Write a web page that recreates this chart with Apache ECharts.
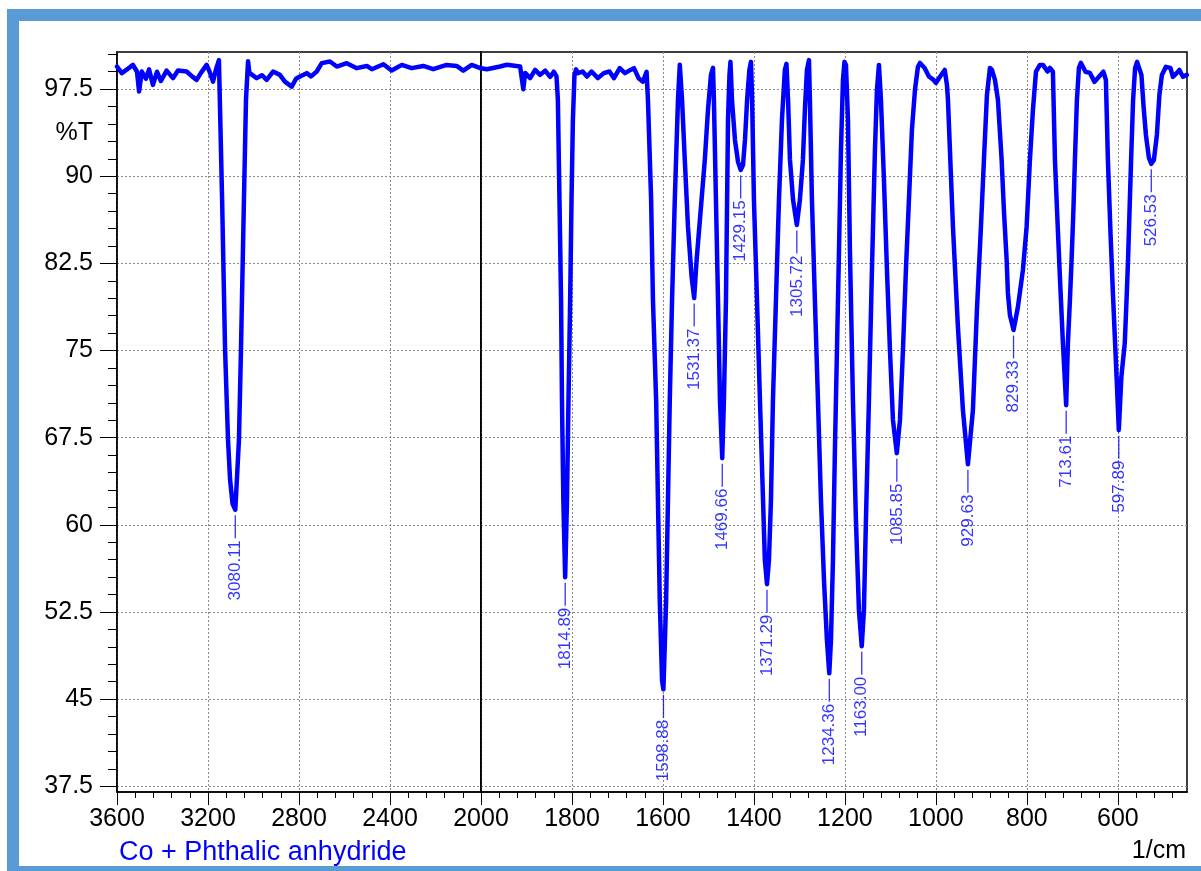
<!DOCTYPE html>
<html>
<head>
<meta charset="utf-8">
<title>Co + Phthalic anhydride</title>
<script src="https://cdn.jsdelivr.net/npm/echarts@6/dist/echarts.min.js"></script>
<style>
  html, body { margin: 0; padding: 0; background: #fff; }
  #chart { width: 1201px; height: 871px; }
</style>
</head>
<body>
<div id="chart"></div>
<script>
// wavenumber (1/cm), %T
var spectrum = [
  [3600, 99.45], [3579, 98.88], [3556, 99.2], [3530, 99.59], [3512, 99.0], [3503, 97.3],
  [3491, 99.02], [3473, 98.4], [3459, 99.2], [3442, 97.87], [3424, 99.0], [3407, 98.2],
  [3382, 99.1], [3354, 98.45], [3332, 99.1], [3294, 99.02], [3270, 98.6], [3250, 98.3],
  [3231, 98.9], [3206, 99.59], [3191, 98.9], [3178, 98.15], [3165, 99.2], [3152, 100.0],
  [3148, 96.6], [3138, 88.0], [3125, 75.1], [3112, 67.3], [3103, 63.9], [3092, 61.8],
  [3080, 61.3], [3073, 63.9], [3064, 67.3], [3055, 75.1], [3042, 88.0], [3033, 96.6],
  [3024, 99.9], [3018, 98.9], [2986, 98.45], [2963, 98.7], [2942, 98.3], [2914, 99.02],
  [2884, 98.73], [2862, 98.15], [2832, 97.72], [2813, 98.4], [2796, 98.59], [2766, 98.88],
  [2747, 98.6], [2722, 99.02], [2700, 99.74], [2664, 99.88], [2634, 99.45], [2590, 99.74],
  [2546, 99.31], [2502, 99.5], [2480, 99.22], [2429, 99.65], [2393, 99.1], [2348, 99.59],
  [2305, 99.31], [2254, 99.5], [2210, 99.22], [2151, 99.59], [2107, 99.5], [2078, 99.1],
  [2041, 99.59], [2000, 99.3],
  [1987, 99.22], [1958, 99.45], [1943, 99.6], [1914, 99.45], [1910, 99.4], [1907, 97.5],
  [1903, 98.9], [1892, 98.45], [1881, 99.16], [1870, 98.73], [1859, 99.1], [1848, 98.56],
  [1840, 99.0], [1834, 98.6],
  [1831, 96.58], [1827.5, 87.97], [1824, 79.35], [1822, 70.74], [1819, 62.12], [1815, 55.49],
  [1811, 62.12], [1807.7, 70.74], [1804, 79.35], [1801, 87.97], [1798, 94.86], [1794.5, 98.73],
  [1791, 99.2], [1787, 98.88], [1776.5, 99.02], [1767, 98.59], [1757, 99.02], [1743, 98.45],
  [1730, 98.88], [1717.6, 99.02], [1707.7, 98.45], [1695, 99.31], [1683.5, 98.88], [1671.4, 99.16],
  [1663.7, 99.31], [1653.6, 98.45], [1644, 98.15], [1636, 99.0],
  [1633, 96.58], [1626, 87.97], [1622, 79.35], [1615, 70.74], [1611, 62.12], [1607, 53.51],
  [1602, 46.6], [1599, 45.84], [1593, 53.51], [1589, 62.12], [1585, 70.74], [1580, 79.35],
  [1574, 87.97], [1567, 96.58], [1563, 99.6],
  [1558, 96.58], [1552, 91.41], [1545, 85.64], [1537, 81.33], [1531.4, 79.52], [1526, 82.8],
  [1517, 87.1], [1508, 91.41], [1501, 95.72], [1494.5, 98.73], [1490, 99.33],
  [1488, 96.58], [1483.5, 87.97], [1479, 79.35], [1474.7, 70.74], [1469.7, 65.74], [1466, 70.74],
  [1461.5, 79.35], [1459, 87.97], [1457, 94.86], [1453.8, 98.73], [1451.6, 99.85],
  [1448.3, 96.58], [1441.7, 93.13], [1435, 91.24], [1429.2, 90.55], [1424, 90.98], [1419.7, 93.13],
  [1415, 96.58], [1410, 99.16], [1406.5, 99.85],
  [1404, 96.58], [1400, 87.97], [1393.3, 79.35], [1386.8, 70.74], [1380, 62.12], [1376, 56.96],
  [1371.3, 54.89], [1367, 56.96], [1362.6, 62.12], [1358.2, 70.74], [1351.6, 79.35], [1345, 87.97],
  [1338.4, 94.86], [1332, 99.16], [1328.5, 99.68],
  [1325, 96.58], [1320.8, 91.41], [1314, 87.97], [1305.7, 85.81], [1299, 87.97], [1292.3, 91.41],
  [1288, 95.72], [1283.5, 99.16], [1279, 100.0],
  [1277, 96.58], [1272.5, 87.97], [1266, 79.35], [1259.3, 70.74], [1252.7, 62.12], [1246, 55.23],
  [1239.5, 50.06], [1234.4, 47.22], [1230.7, 50.06], [1226.3, 56.96], [1222, 66.43], [1217.5, 75.05],
  [1213, 83.66], [1208.7, 92.27], [1204.3, 98.3], [1201, 99.85],
  [1197.7, 99.59], [1193.3, 94.86], [1189, 83.66], [1182.4, 70.74], [1175.8, 60.4], [1169.2, 52.65],
  [1163, 49.55], [1158.2, 52.65], [1153.8, 60.4], [1147.2, 70.74], [1140.6, 81.94], [1134, 92.27],
  [1129.6, 97.44], [1125.2, 99.59],
  [1120.8, 96.58], [1114.2, 89.69], [1107.6, 81.94], [1101, 75.05], [1094.4, 69.03], [1085.9, 66.17],
  [1079, 69.03], [1072.4, 75.05], [1065.9, 81.94], [1059.3, 87.97], [1052.7, 94.0], [1046, 97.44],
  [1039.5, 99.42], [1035, 99.76], [1024.8, 99.33], [1015.3, 98.59], [1005.2, 98.3], [1000, 98.04],
  [991, 98.56], [980.6, 99.16], [975.7, 97.87],
  [973.5, 96.58], [962.5, 85.64], [951.6, 77.03], [940.6, 69.88], [929.6, 65.22], [918.6, 69.88],
  [909.8, 78.5], [901, 85.64], [894.4, 91.41], [887.8, 97.0], [881.2, 99.33], [876.8, 99.16],
  [870.2, 98.3], [863.6, 96.58],
  [855.5, 91.41], [850.5, 87.1], [844.5, 82.8], [841.7, 79.96], [837.3, 78.06], [829.3, 76.77],
  [819.7, 78.75], [808.7, 81.94], [800.6, 85.64], [793.3, 91.41], [786.7, 95.72], [780, 99.0],
  [771.3, 99.59], [764.7, 99.59], [754.6, 99.02], [749.4, 99.33], [742.8, 99.0],
  [738.3, 91.41], [732.8, 86.24], [727.4, 81.33], [720.8, 75.65], [713.6, 70.3], [709.8, 75.65],
  [705.4, 79.35], [701.7, 82.8], [697.7, 87.1], [694.4, 91.41], [690, 96.58], [685.6, 99.33],
  [681.2, 99.76], [671.1, 99.0], [661.4, 98.9], [651.3, 98.13], [641.6, 98.56], [631.8, 99.0],
  [626.3, 98.3],
  [621.9, 91.41], [616.4, 85.38], [610.9, 79.96], [602.8, 72.73], [597.9, 68.15], [592.3, 72.73],
  [584.8, 75.65], [580.9, 79.35], [577.6, 82.8], [574.3, 87.1], [570.9, 91.41], [566.5, 96.58],
  [562.1, 99.33], [557.7, 99.85],
  [548.2, 98.73], [543.4, 95.98], [538.3, 93.56], [531.7, 91.58], [526.5, 91.07], [520.8, 91.41],
  [514.2, 93.56], [508.7, 97.0], [503.2, 98.73], [494.4, 99.42], [484.5, 99.33], [479, 98.56],
  [470.2, 98.9], [464.7, 99.16], [457, 98.56], [448.3, 98.73]
];

// labelled peaks: wavenumber and %T at the minimum
var peakWavenumbers = [3080.11, 1814.89, 1598.88, 1531.37, 1469.66, 1429.15, 1371.29, 1305.72,
                       1234.36, 1163.00, 1085.85, 929.63, 829.33, 713.61, 597.89, 526.53];
var peakTransmittance = [61.3, 55.49, 45.84, 79.52, 65.74, 90.55, 54.89, 85.81,
                         47.22, 49.55, 66.17, 65.22, 76.77, 70.3, 68.15, 91.07];

var yTicks = [37.5, 45, 52.5, 60, 67.5, 75, 82.5, 90, 97.5];
var yLabelValues = [37.5, 45, 52.5, 60, 67.5, 75, 82.5, 90, 93.75, 97.5];  // 93.75 carries "%T"
var xTicksRight = [600, 800, 1000, 1200, 1400, 1600, 1800];

var yMinor = [];
for (var v = 37.5; v <= 100.6; v += 1.5) {
  if (yTicks.indexOf(Math.round(v * 10) / 10) < 0) yMinor.push(Math.round(v * 10) / 10);
}

var FONT = 'Liberation Sans';
var BLUE = '#0000ff';

var leftPart = spectrum.filter(function (d) { return d[0] >= 2000; });
var rightPart = spectrum.filter(function (d) { return d[0] <= 2000; });
var peaksLeft = [], peaksRight = [];
peakWavenumbers.forEach(function (w, i) {
  (w > 2000 ? peaksLeft : peaksRight).push([w, peakTransmittance[i]]);
});

var gridLine = { show: true, lineStyle: { color: '#8a8a8a', type: [2, 2], width: 1 } };
var axisLine = { show: true, onZero: false, lineStyle: { color: '#000', width: 1.5 } };
var plainNum = function (v) { return String(v); };

function peakSeries(xi, data) {
  return {
    type: 'scatter', xAxisIndex: xi, yAxisIndex: xi, data: data, silent: true,
    symbol: 'rect', symbolSize: [1.3, 23], symbolOffset: [0, 17],
    itemStyle: { color: BLUE },
    label: {
      show: true, position: 'bottom', distance: 2, rotate: 90,
      align: 'right', verticalAlign: 'middle',
      color: BLUE, fontSize: 17, fontFamily: FONT,
      formatter: function (p) { return p.value[0].toFixed(2); }
    },
    z: 3
  };
}

var chart = echarts.init(document.getElementById('chart'));
chart.setOption({
  animation: false,
  backgroundColor: '#fff',
  graphic: [{
    type: 'rect', silent: true, z: -10,
    shape: { x: 13, y: 15, width: 1215, height: 857 },
    style: { fill: 'none', stroke: '#5b9bd5', lineWidth: 12 }
  }],
  title: [
    { text: 'Co + Phthalic anhydride', left: 114, top: 834,
      textStyle: { color: BLUE, fontSize: 27, fontWeight: 'normal', fontFamily: FONT } },
    { text: '1/cm', right: 10, top: 834,
      textStyle: { color: '#000', fontSize: 25, fontWeight: 'normal', fontFamily: FONT } }
  ],
  grid: [
    { left: 117, right: 720, top: 52, bottom: 79, show: true, borderColor: '#000', borderWidth: 1.5 },
    { left: 481, right: 14, top: 52, bottom: 79, show: true, borderColor: '#000', borderWidth: 1.5 }
  ],
  xAxis: [
    {
      gridIndex: 0, type: 'value', min: 2000, max: 3600, interval: 400, inverse: true,
      axisLine: axisLine,
      axisTick: { length: 13, lineStyle: { color: '#000' } },
      minorTick: { show: true, splitNumber: 5, length: 6, lineStyle: { color: '#000' } },
      axisLabel: { fontSize: 25, margin: 15, color: '#000', fontFamily: FONT, formatter: plainNum },
      splitLine: gridLine
    },
    {
      gridIndex: 1, type: 'value', min: 448, max: 2000, splitNumber: 8, inverse: true,
      axisLine: axisLine,
      axisTick: { length: 13, customValues: xTicksRight, lineStyle: { color: '#000' } },
      minorTick: { show: true, splitNumber: 5, length: 6, lineStyle: { color: '#000' } },
      axisLabel: { fontSize: 25, margin: 15, color: '#000', fontFamily: FONT,
                   customValues: xTicksRight, formatter: plainNum },
      splitLine: gridLine
    }
  ],
  yAxis: [
    {
      gridIndex: 0, type: 'value', min: 37.0, max: 100.7, position: 'left',
      axisLine: axisLine,
      axisTick: { length: 17, customValues: yTicks, lineStyle: { color: '#000' } },
      axisLabel: {
        fontSize: 25, margin: 24, color: '#000', fontFamily: FONT, customValues: yLabelValues,
        formatter: function (v) { return v === 93.75 ? '%T' : String(v); }
      },
      splitLine: gridLine
    },
    {
      gridIndex: 1, type: 'value', min: 37.0, max: 100.7, position: 'left',
      axisLine: axisLine,
      axisTick: { show: false, customValues: yTicks },
      axisLabel: { show: false },
      splitLine: gridLine
    },
    {
      gridIndex: 0, type: 'value', min: 37.0, max: 100.7, position: 'left',
      axisLine: { show: false },
      axisTick: { length: 9, customValues: yMinor, lineStyle: { color: '#000' } },
      axisLabel: { show: false },
      splitLine: { show: false }
    }
  ],
  series: [
    {
      type: 'line', xAxisIndex: 0, yAxisIndex: 0, data: leftPart, showSymbol: false, silent: true,
      lineStyle: { color: BLUE, width: 4.5, cap: 'round', join: 'round' }, z: 4
    },
    {
      type: 'line', xAxisIndex: 1, yAxisIndex: 1, data: rightPart, showSymbol: false, silent: true,
      lineStyle: { color: BLUE, width: 4.5, cap: 'round', join: 'round' }, z: 4
    },
    peakSeries(0, peaksLeft),
    peakSeries(1, peaksRight)
  ]
});
</script>
</body>
</html>
